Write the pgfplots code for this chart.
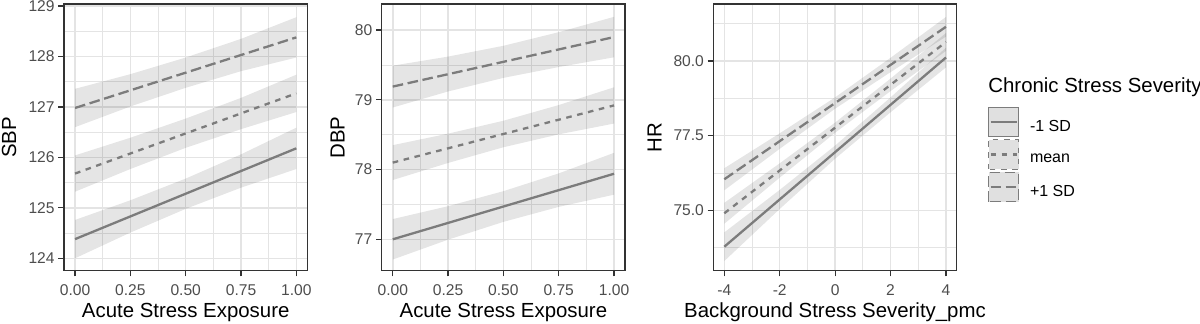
\documentclass[border=0pt]{standalone}
\usepackage{fontspec}
\setmainfont{Liberation Sans}
\usepackage{pgfplots}
\pgfplotsset{compat=1.18}
\definecolor{ln}{HTML}{7C7C7C}
\definecolor{grd}{HTML}{E4E4E4}
\definecolor{brd}{HTML}{333333}
\definecolor{tck}{HTML}{4D4D4D}
\pgfplotsset{
 panel/.style={
  scale only axis, width=121.7pt, height=133.3pt, anchor=south west,
  axis line style={draw=brd, line width=0.75pt},
  tick align=outside, tick pos=left,
  major tick length=2.8pt, minor tick length=0pt,
  tick style={draw=brd, line width=0.6pt},
  grid=both,
  major grid style={draw=grd, line width=0.75pt},
  minor grid style={draw=grd, line width=0.45pt},
  tick label style={font=\fontsize{7.8}{9}\selectfont, text=tck, inner sep=0pt},
  /pgf/number format/assume math mode=true,
  scaled ticks=false,
  xticklabel style={anchor=base, yshift=-9.4pt},
  yticklabel style={anchor=east, xshift=-1.7pt},
  every axis x label/.style={at={(axis description cs:0.5,0)}, anchor=base, yshift=-23.5pt, font=\fontsize{10.2}{12}\selectfont},
 },
 ylab/.style={every axis y label/.style={at={(axis description cs:0,0.5)}, xshift=-#1, rotate=90, anchor=center, font=\fontsize{10.2}{12}\selectfont}},
 ribbon/.style={draw=none, fill=black, fill opacity=0.1, forget plot},
 l1/.style={ln, line width=1.15pt, solid},
 l2/.style={ln, line width=1.15pt, dash pattern=on 2.8pt off 2.8pt},
 l3/.style={ln, line width=1.15pt, dash pattern=on 5.3pt off 2.3pt},
}
\begin{document}
\begin{tikzpicture}
\useasboundingbox (0,0) rectangle (600pt,162pt);
% ---------------- SBP
\begin{axis}[panel, at={(32pt,26.65pt)}, ylab=27.4pt,
  xmin=-0.05, xmax=1.05, ymin=123.754, ymax=129.04,
  xtick={0,0.25,0.5,0.75,1}, minor xtick={0.125,0.375,0.625,0.875},
  ytick={124,125,126,127,128,129}, minor ytick={124.5,125.5,126.5,127.5,128.5},
  xticklabel style={/pgf/number format/.cd, fixed, fixed zerofill, precision=2},
  xlabel={Acute Stress Exposure}, ylabel={SBP}]
\addplot[ribbon] coordinates {(0,124.76)(0.25,125.15)(0.5,125.58)(0.75,126.06)(1,126.59)(1,125.77)(0.75,125.40)(0.5,124.98)(0.25,124.51)(0,124.00)};
\addplot[ribbon] coordinates {(0,126.04)(0.25,126.39)(0.5,126.77)(0.75,127.18)(1,127.64)(1,126.90)(0.75,126.56)(0.5,126.19)(0.25,125.77)(0,125.32)};
\addplot[ribbon] coordinates {(0,127.36)(0.25,127.65)(0.5,127.98)(0.75,128.35)(1,128.78)(1,127.98)(0.75,127.71)(0.5,127.38)(0.25,127.01)(0,126.60)};
\addplot[l1] coordinates {(0,124.38)(1,126.18)};
\addplot[l2] coordinates {(0,125.68)(1,127.27)};
\addplot[l3] coordinates {(0,126.98)(1,128.38)};
\end{axis}
% ---------------- DBP
\begin{axis}[panel, at={(190.85pt,26.65pt)}, ylab=22.1pt,
  xmin=-0.05, xmax=1.05, ymin=76.55, ymax=80.373,
  xtick={0,0.25,0.5,0.75,1}, minor xtick={0.125,0.375,0.625,0.875},
  ytick={77,78,79,80}, minor ytick={77.5,78.5,79.5},
  xticklabel style={/pgf/number format/.cd, fixed, fixed zerofill, precision=2},
  xlabel={Acute Stress Exposure}, ylabel={DBP}]
\addplot[ribbon] coordinates {(0,77.29)(0.25,77.475)(0.5,77.69)(0.75,77.945)(1,78.24)(1,77.64)(0.75,77.465)(0.5,77.25)(0.25,76.995)(0,76.71)};
\addplot[ribbon] coordinates {(0,78.35)(0.25,78.515)(0.5,78.70)(0.75,78.925)(1,79.18)(1,78.66)(0.75,78.505)(0.5,78.32)(0.25,78.095)(0,77.85)};
\addplot[ribbon] coordinates {(0,79.49)(0.25,79.62)(0.5,79.775)(0.75,79.97)(1,80.19)(1,79.61)(0.75,79.47)(0.5,79.315)(0.25,79.12)(0,78.89)};
\addplot[l1] coordinates {(0,77.00)(1,77.94)};
\addplot[l2] coordinates {(0,78.10)(1,78.92)};
\addplot[l3] coordinates {(0,79.19)(1,79.90)};
\end{axis}
% ---------------- HR
\begin{axis}[panel, at={(356.65pt,26.65pt)}, ylab=29.4pt,
  xmin=-4.397, xmax=4.386, ymin=72.977, ymax=81.909,
  xtick={-4,-2,0,2,4}, minor xtick={-3,-1,1,3},
  ytick={75,77.5,80}, minor ytick={73.75,76.25,78.75,81.25},
  yticklabel style={/pgf/number format/.cd, fixed, fixed zerofill, precision=1},
  xlabel={Background Stress Severity\_pmc}, ylabel={HR},
  legend cell align=left,
  legend style={at={(1.1286,0.6152)}, anchor=north west, draw=none, fill=none,
    inner sep=0pt, outer sep=0pt, row sep=1.1pt, column sep=5.5pt,
    nodes={inner sep=0pt}, font=\fontsize{8}{9}\selectfont},
  legend image code/.code={
    \draw[fill=black!12, line width=0.5pt] (0pt,-4.6pt) rectangle (15pt,10.1pt);
    \draw (1pt,2.75pt) -- (14pt,2.75pt);
  }]
\addplot[ribbon] coordinates {(-4,74.26)(-2,75.685)(0,77.17)(2,78.785)(4,80.45)(4,79.79)(2,78.285)(0,76.73)(-2,75.045)(-4,73.30)};
\addplot[ribbon] coordinates {(-4,75.25)(-2,76.575)(0,77.94)(2,79.415)(4,80.94)(4,80.34)(2,78.995)(0,77.60)(-2,76.095)(-4,74.55)};
\addplot[ribbon] coordinates {(-4,76.41)(-2,77.58)(0,78.785)(2,80.11)(4,81.48)(4,80.82)(2,79.63)(0,78.405)(-2,77.06)(-4,75.67)};
\addplot[l1] coordinates {(-4,73.78)(4,80.12)};
\addlegendentry{-1 SD}
\addplot[l2] coordinates {(-4,74.90)(4,80.64)};
\addlegendentry{mean}
\addplot[l3] coordinates {(-4,76.04)(4,81.15)};
\addlegendentry{+1 SD}
\end{axis}
\node[anchor=base west, inner sep=0pt, font=\fontsize{10.2}{12}\selectfont] at (494pt,115.5pt) {Chronic Stress Severity};
\end{tikzpicture}
\end{document}
